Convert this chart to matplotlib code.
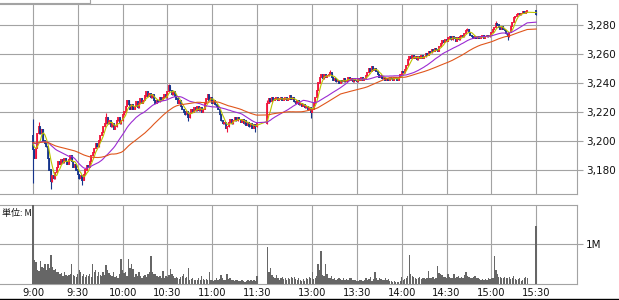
import numpy as np
import pandas as pd
import matplotlib
matplotlib.use("Agg")
import matplotlib.pyplot as plt
from matplotlib.lines import Line2D

# ---------------- data ----------------
first_open = 3204
prev_close = 3199

# 1-minute closes, morning session 9:00 .. 11:30
am_close = [3194, 3188, 3195, 3205, 3210, 3205, 3208, 3200, 3198, 3196,
            3188, 3180, 3172, 3176, 3174, 3178, 3182, 3186, 3184, 3187,
            3185, 3188, 3186, 3184, 3187, 3190, 3186, 3182, 3184, 3180,
            3177, 3174, 3176, 3173, 3177, 3180, 3183, 3182, 3186, 3190,
            3192, 3195, 3198, 3196, 3200, 3204, 3206, 3210, 3212, 3216,
            3212, 3214, 3210, 3212, 3208, 3210, 3214, 3216, 3212, 3214,
            3218, 3220, 3224, 3228, 3225, 3222, 3225, 3222, 3224, 3227,
            3223, 3226, 3229, 3226, 3228, 3231, 3234, 3231, 3233, 3230,
            3232, 3228, 3226, 3228, 3227, 3230, 3228, 3230, 3232, 3230,
            3234, 3238, 3235, 3232, 3234, 3231, 3229, 3226, 3228, 3224,
            3222, 3220, 3218, 3220, 3216, 3219, 3222, 3220, 3223, 3221,
            3224, 3221, 3223, 3220, 3222, 3226, 3229, 3232, 3228, 3230,
            3226, 3228, 3225, 3224, 3222, 3218, 3214, 3212, 3213, 3209,
            3210, 3213, 3215, 3212, 3214, 3216, 3214, 3216, 3215, 3213,
            3215, 3212, 3214, 3211, 3213, 3210, 3212, 3209, 3211, 3210,
            3212]

# 1-minute closes, afternoon session 12:30 .. 15:24
pm_close = [3226, 3229, 3227, 3230, 3228, 3229, 3230, 3228, 3229, 3230,
            3228, 3229, 3230, 3228, 3229, 3231, 3229, 3230, 3227, 3226,
            3228, 3225, 3226, 3224, 3225, 3223, 3224, 3222, 3223, 3220,
            3222, 3226, 3230, 3235, 3240, 3244, 3246, 3243, 3246, 3244,
            3245, 3246, 3247, 3244, 3242, 3243, 3241, 3242, 3240, 3242,
            3241, 3243, 3241, 3242, 3244, 3242, 3243, 3241, 3243, 3242,
            3241, 3243, 3242, 3244, 3242, 3243, 3245, 3247, 3250, 3248,
            3251, 3249, 3250, 3248, 3246, 3244, 3245, 3243, 3244, 3242,
            3243, 3242, 3244, 3243, 3242, 3244, 3243, 3242, 3244, 3246,
            3248, 3247, 3249, 3252, 3256, 3258, 3257, 3259, 3257, 3258,
            3256, 3258, 3257, 3259, 3257, 3258, 3260, 3259, 3262, 3261,
            3263, 3262, 3264, 3263, 3262, 3265, 3267, 3269, 3268, 3270,
            3269, 3271, 3272, 3270, 3272, 3271, 3269, 3271, 3270, 3272,
            3273, 3272, 3274, 3276, 3277, 3275, 3273, 3272, 3271, 3272,
            3271, 3272, 3271, 3272, 3273, 3271, 3272, 3273, 3272, 3273,
            3275, 3277, 3278, 3281, 3280, 3278, 3277, 3279, 3277, 3276,
            3274, 3272, 3275, 3279, 3282, 3285, 3286, 3287, 3288, 3287,
            3288, 3289, 3288, 3289, 3290]

close_auction_price = 3287   # 15:30

# notable wick extremes: bar position -> (high, low)
am_wicks = {0: (3215, 3171), 4: (3213, None), 12: (None, 3167),
            33: (None, 3170), 49: (3219, None), 91: (3239, None),
            104: (None, 3214), 130: (None, 3206), 149: (None, 3206)}
pm_wicks = {0: (3228, None), 29: (None, 3216), 42: (3249, None),
            70: (3252, None), 134: (3278, None), 153: (3283, None),
            161: (None, 3270)}

# volume in millions of shares
am_vol = [2.40, 0.60, 0.55, 0.36, 0.34, 0.58, 0.44, 0.40, 0.52, 0.36,
          0.52, 0.40, 0.74, 0.44, 0.35, 0.38, 0.32, 0.30, 0.25, 0.28,
          0.21, 0.31, 0.23, 0.20, 0.23, 0.25, 0.52, 0.23, 0.21, 0.19,
          0.25, 0.35, 0.30, 0.22, 0.27, 0.19, 0.23, 0.21, 0.25, 0.19,
          0.52, 0.30, 0.36, 0.22, 0.31, 0.23, 0.20, 0.30, 0.24, 0.48,
          0.36, 0.28, 0.23, 0.20, 0.30, 0.19, 0.22, 0.17, 0.25, 0.63,
          0.36, 0.28, 0.31, 0.22, 0.63, 0.40, 0.50, 0.38, 0.19, 0.25,
          0.20, 0.31, 0.22, 0.17, 0.20, 0.23, 0.19, 0.25, 0.30, 0.70,
          0.30, 0.27, 0.25, 0.20, 0.19, 0.22, 0.16, 0.33, 0.15, 0.20,
          0.18, 0.23, 0.38, 0.27, 0.20, 0.17, 0.19, 0.17, 0.14, 0.19,
          0.22, 0.27, 0.15, 0.18, 0.41, 0.11, 0.14, 0.15, 0.12, 0.10,
          0.11, 0.15, 0.12, 0.21, 0.13, 0.11, 0.14, 0.12, 0.30, 0.11,
          0.10, 0.08, 0.12, 0.15, 0.11, 0.13, 0.23, 0.17, 0.12, 0.10,
          0.25, 0.14, 0.15, 0.10, 0.11, 0.09, 0.11, 0.10, 0.08, 0.09,
          0.11, 0.08, 0.07, 0.08, 0.10, 0.09, 0.11, 0.08, 0.10, 0.09,
          0.21]
pm_vol = [0.93, 0.30, 0.40, 0.23, 0.19, 0.17, 0.23, 0.15, 0.11, 0.16,
          0.19, 0.14, 0.17, 0.12, 0.17, 0.14, 0.19, 0.15, 0.19, 0.13,
          0.11, 0.15, 0.12, 0.08, 0.14, 0.08, 0.16, 0.13, 0.19, 0.15,
          0.30, 0.14, 0.17, 0.22, 0.50, 0.35, 0.83, 0.23, 0.20, 0.50,
          0.25, 0.17, 0.15, 0.21, 0.14, 0.17, 0.12, 0.13, 0.15, 0.13,
          0.12, 0.15, 0.10, 0.13, 0.12, 0.15, 0.15, 0.10, 0.12, 0.11,
          0.09, 0.08, 0.10, 0.11, 0.09, 0.11, 0.15, 0.12, 0.14, 0.19,
          0.08, 0.14, 0.30, 0.17, 0.12, 0.15, 0.13, 0.10, 0.11, 0.15,
          0.10, 0.13, 0.09, 0.08, 0.07, 0.08, 0.06, 0.07, 0.05, 0.08,
          0.19, 0.11, 0.13, 0.15, 0.20, 0.74, 0.27, 0.20, 0.19, 0.15,
          0.13, 0.17, 0.19, 0.14, 0.17, 0.15, 0.13, 0.17, 0.33, 0.16,
          0.15, 0.19, 0.13, 0.15, 0.45, 0.28, 0.25, 0.23, 0.18, 0.19,
          0.17, 0.25, 0.19, 0.16, 0.15, 0.25, 0.17, 0.19, 0.21, 0.16,
          0.19, 0.17, 0.23, 0.30, 0.22, 0.19, 0.15, 0.17, 0.19, 0.21,
          0.15, 0.17, 0.13, 0.11, 0.13, 0.12, 0.13, 0.11, 0.15, 0.14,
          0.17, 0.15, 0.70, 0.35, 0.27, 0.19, 0.18, 0.17, 0.15, 0.19,
          0.16, 0.17, 0.19, 0.14, 0.15, 0.21, 0.14, 0.11, 0.13, 0.15,
          0.08, 0.12, 0.17, 0.19, 0.15]
close_auction_vol = 1.47

time_labels = ["9:00", "9:30", "10:00", "10:30", "11:00", "11:30",
               "13:00", "13:30", "14:00", "14:30", "15:00", "15:30"]
price_ticks = [3180, 3200, 3220, 3240, 3260, 3280]
ma_windows = [5, 25, 50]
ma_colors = ["#bcc400", "#9b2bd2", "#e0561c"]

# ---------------- build ----------------
AM_OPEN = 9 * 60
AM_CLOSE = 11 * 60 + 30
PM_OPEN = 12 * 60 + 30
PM_OFFSET = 157  # slot where the afternoon session begins


def tpos(label):
    h, m = map(int, label.split(":"))
    t = h * 60 + m
    if t <= AM_CLOSE:
        return t - AM_OPEN
    return PM_OFFSET + t - PM_OPEN


pos = ([i for i in range(len(am_close))] +
       [PM_OFFSET + k for k in range(len(pm_close))] +
       [tpos("15:30")])
closes = np.array(am_close + pm_close + [close_auction_price], float)
vols = np.array(am_vol + pm_vol + [close_auction_vol], float)
pos = np.array(pos, float)
opens = np.concatenate([[first_open], closes[:-1]])
highs = np.maximum(opens, closes)
lows = np.minimum(opens, closes)
for d, base in ((am_wicks, 0), (pm_wicks, len(am_close))):
    for k, (h, l) in d.items():
        if h is not None:
            highs[base + k] = max(highs[base + k], h)
        if l is not None:
            lows[base + k] = min(lows[base + k], l)

# ---------------- figure ----------------
W, H = 619, 300
fig = plt.figure(figsize=(W / 100, H / 100), dpi=100)
fig.patch.set_facecolor("white")

px_per_slot = 1.493
x0_px = 33
ax_right_px = 577
xlim = (-x0_px / px_per_slot, (ax_right_px - x0_px) / px_per_slot)

def fax(left, top, right, bottom):
    return fig.add_axes([left / W, 1 - bottom / H, (right - left) / W, (bottom - top) / H])

ax = fax(0, 4.3, ax_right_px, 194)
axv = fax(0, 205, ax_right_px, 284.3)

grid_c = "#a3a3a3"
for a in (ax, axv):
    a.set_xlim(*xlim)
    a.set_facecolor("white")
    for s in a.spines.values():
        s.set_color(grid_c)
        s.set_linewidth(0.8)
    a.spines["left"].set_visible(False)
    a.set_axisbelow(True)
    a.set_xticks([tpos(t) for t in time_labels])
    a.grid(True, color=grid_c, linewidth=0.8)
    a.yaxis.tick_right()
    a.tick_params(axis="y", length=4, width=0.8, color=grid_c, pad=2.5,
                  labelsize=7.5, labelcolor="#111111")
    a.tick_params(axis="x", length=0)

# price panel
ytop = 3280 + (25 - 4.3) / 1.45
ybot = 3180 - (194 - 170) / 1.45
ax.set_ylim(ybot, ytop)
ax.set_yticks(price_ticks)
ax.set_yticklabels([f"{v:,}" for v in price_ticks])
ax.set_xticklabels([])

up = closes >= opens
up_c, dn_c = "#f0143c", "#15348c"
cols = np.where(up, up_c, dn_c)
ax.vlines(pos, lows, highs, colors=cols, linewidth=0.8, zorder=3)
ax.vlines(pos, np.minimum(opens, closes) - 0.4, np.maximum(opens, closes) + 0.4,
          colors=cols, linewidth=1.3, zorder=3)

series = pd.Series(np.concatenate([[prev_close] * 60, closes]))
for w, c in zip(ma_windows, ma_colors):
    ma = series.rolling(w, min_periods=1).mean().values[60:]
    ax.plot(pos, ma, color=c, linewidth=0.8, zorder=4)

# volume panel
axv.set_ylim(0, (284.3 - 205) / 40)
axv.set_yticks([1])
axv.set_yticklabels(["1M"])
axv.bar(pos, vols, width=0.9, color="#666666", linewidth=0, zorder=3)
axv.set_xticklabels(time_labels, fontsize=7.2, color="#111111")
axv.tick_params(axis="x", pad=3)

fig.text(2 / W, 1 - 213 / H, "単位: M", fontsize=6.5, va="center", ha="left",
         family=["Noto Sans CJK JP", "DejaVu Sans"], color="#111111")

# small tab at top-left and bottom rule
fig.add_artist(Line2D([90 / W, 90 / W], [1, 1 - 4.3 / H], color=grid_c,
                      linewidth=0.8, transform=fig.transFigure))
fig.add_artist(Line2D([0, 90 / W], [1 - 3.3 / H, 1 - 3.3 / H], color=grid_c,
                      linewidth=0.8, transform=fig.transFigure))
fig.add_artist(Line2D([0, 1], [0.6 / H, 0.6 / H], color="black",
                      linewidth=1.0, transform=fig.transFigure))

fig.savefig("out.png", dpi=100, facecolor="white")
